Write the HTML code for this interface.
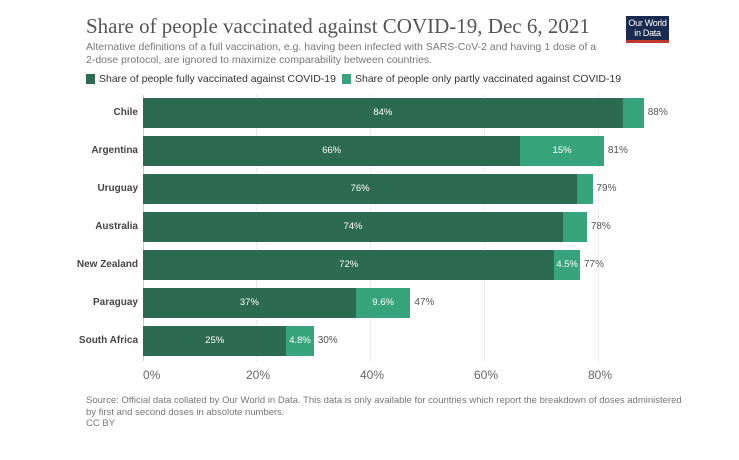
<!DOCTYPE html>
<html><head><meta charset="utf-8"><style>
body{margin:0;background:#fff;width:739px;height:460px;overflow:hidden;font-family:"Liberation Sans",sans-serif;position:relative}
.a{position:absolute}
.t{left:86px;top:14px;font-family:"Liberation Serif",serif;font-size:21px;color:#555}
.s{left:86px;top:41px;font-size:10.5px;color:#777;line-height:13px;width:515px}
.lg{top:73px;font-size:10.5px;color:#333}
.sq{width:9px;height:10px;top:74px}
.lab{font-size:10px;font-weight:bold;color:#444;text-align:right;width:130px;left:8px}
.bar{height:30px}
.d{background:#2c6a52}.l{background:#37a47e}
.v{font-size:9.5px;color:#fff;text-align:center;line-height:30px}
.e{font-size:10px;color:#555;line-height:30px}
.g{width:0;border-left:1px dotted #ddd;top:95px;height:266px}
.tk{top:368px;font-size:12px;color:#666}
.src{left:86px;top:395px;font-size:9.5px;color:#777;line-height:11.5px;width:600px}
</style></head><body>
<div class="a t">Share of people vaccinated against COVID-19, Dec 6, 2021</div>
<div class="a s">Alternative definitions of a full vaccination, e.g. having been infected with SARS-CoV-2 and having 1 dose of a 2-dose protocol, are ignored to maximize comparability between countries.</div>
<div class="a" style="left:626px;top:16px;width:43px;height:27px;background:#1a2b4f;border-bottom:3px solid #c0392b;color:#fff;font-size:9px;line-height:10px;text-align:center;padding-top:2px;box-sizing:border-box;letter-spacing:-0.3px">Our World<br>in Data</div>
<div class="a sq d" style="left:86px"></div><div class="a lg" style="left:99px">Share of people fully vaccinated against COVID-19</div>
<div class="a sq l" style="left:342px"></div><div class="a lg" style="left:355px">Share of people only partly vaccinated against COVID-19</div>
<div class="a g" style="left:256px"></div><div class="a g" style="left:370px"></div><div class="a g" style="left:484px"></div><div class="a g" style="left:598px"></div>
<div class="a" style="left:143px;top:95px;width:1px;height:266px;background:#ccc"></div>
<div id="rows"></div>
<div class="a tk" style="left:143px">0%</div><div class="a tk" style="left:246px">20%</div><div class="a tk" style="left:360px">40%</div><div class="a tk" style="left:474px">60%</div><div class="a tk" style="left:588px">80%</div>
<div class="a src">Source: Official data collated by Our World in Data. This data is only available for countries which report the breakdown of doses administered by first and second doses in absolute numbers.<br>CC BY</div>
<script>
var d=[["Chile",84.3,3.7,"84%","",  "88%"],["Argentina",66.3,14.7,"66%","15%","81%"],["Uruguay",76.3,2.7,"76%","","79%"],["Australia",73.8,4.2,"74%","","78%"],["New Zealand",72.3,4.5,"72%","4.5%","77%"],["Paraguay",37.4,9.6,"37%","9.6%","47%"],["South Africa",25.2,4.8,"25%","4.8%","30%"]];
var h="",k=5.69;
d.forEach(function(r,i){var y=98+i*38,w1=r[1]*k,w2=r[2]*k;
h+='<div class="a lab" style="top:'+(y+9)+'px">'+r[0]+'</div>';
h+='<div class="a bar d v" style="left:143px;top:'+y+'px;width:'+w1+'px">'+r[3]+'</div>';
h+='<div class="a bar l v" style="left:'+(143+w1)+'px;top:'+y+'px;width:'+w2+'px">'+r[4]+'</div>';
h+='<div class="a e" style="left:'+(147+w1+w2)+'px;top:'+y+'px">'+r[5]+'</div>';});
document.getElementById("rows").innerHTML=h;
</script>
</body></html>
